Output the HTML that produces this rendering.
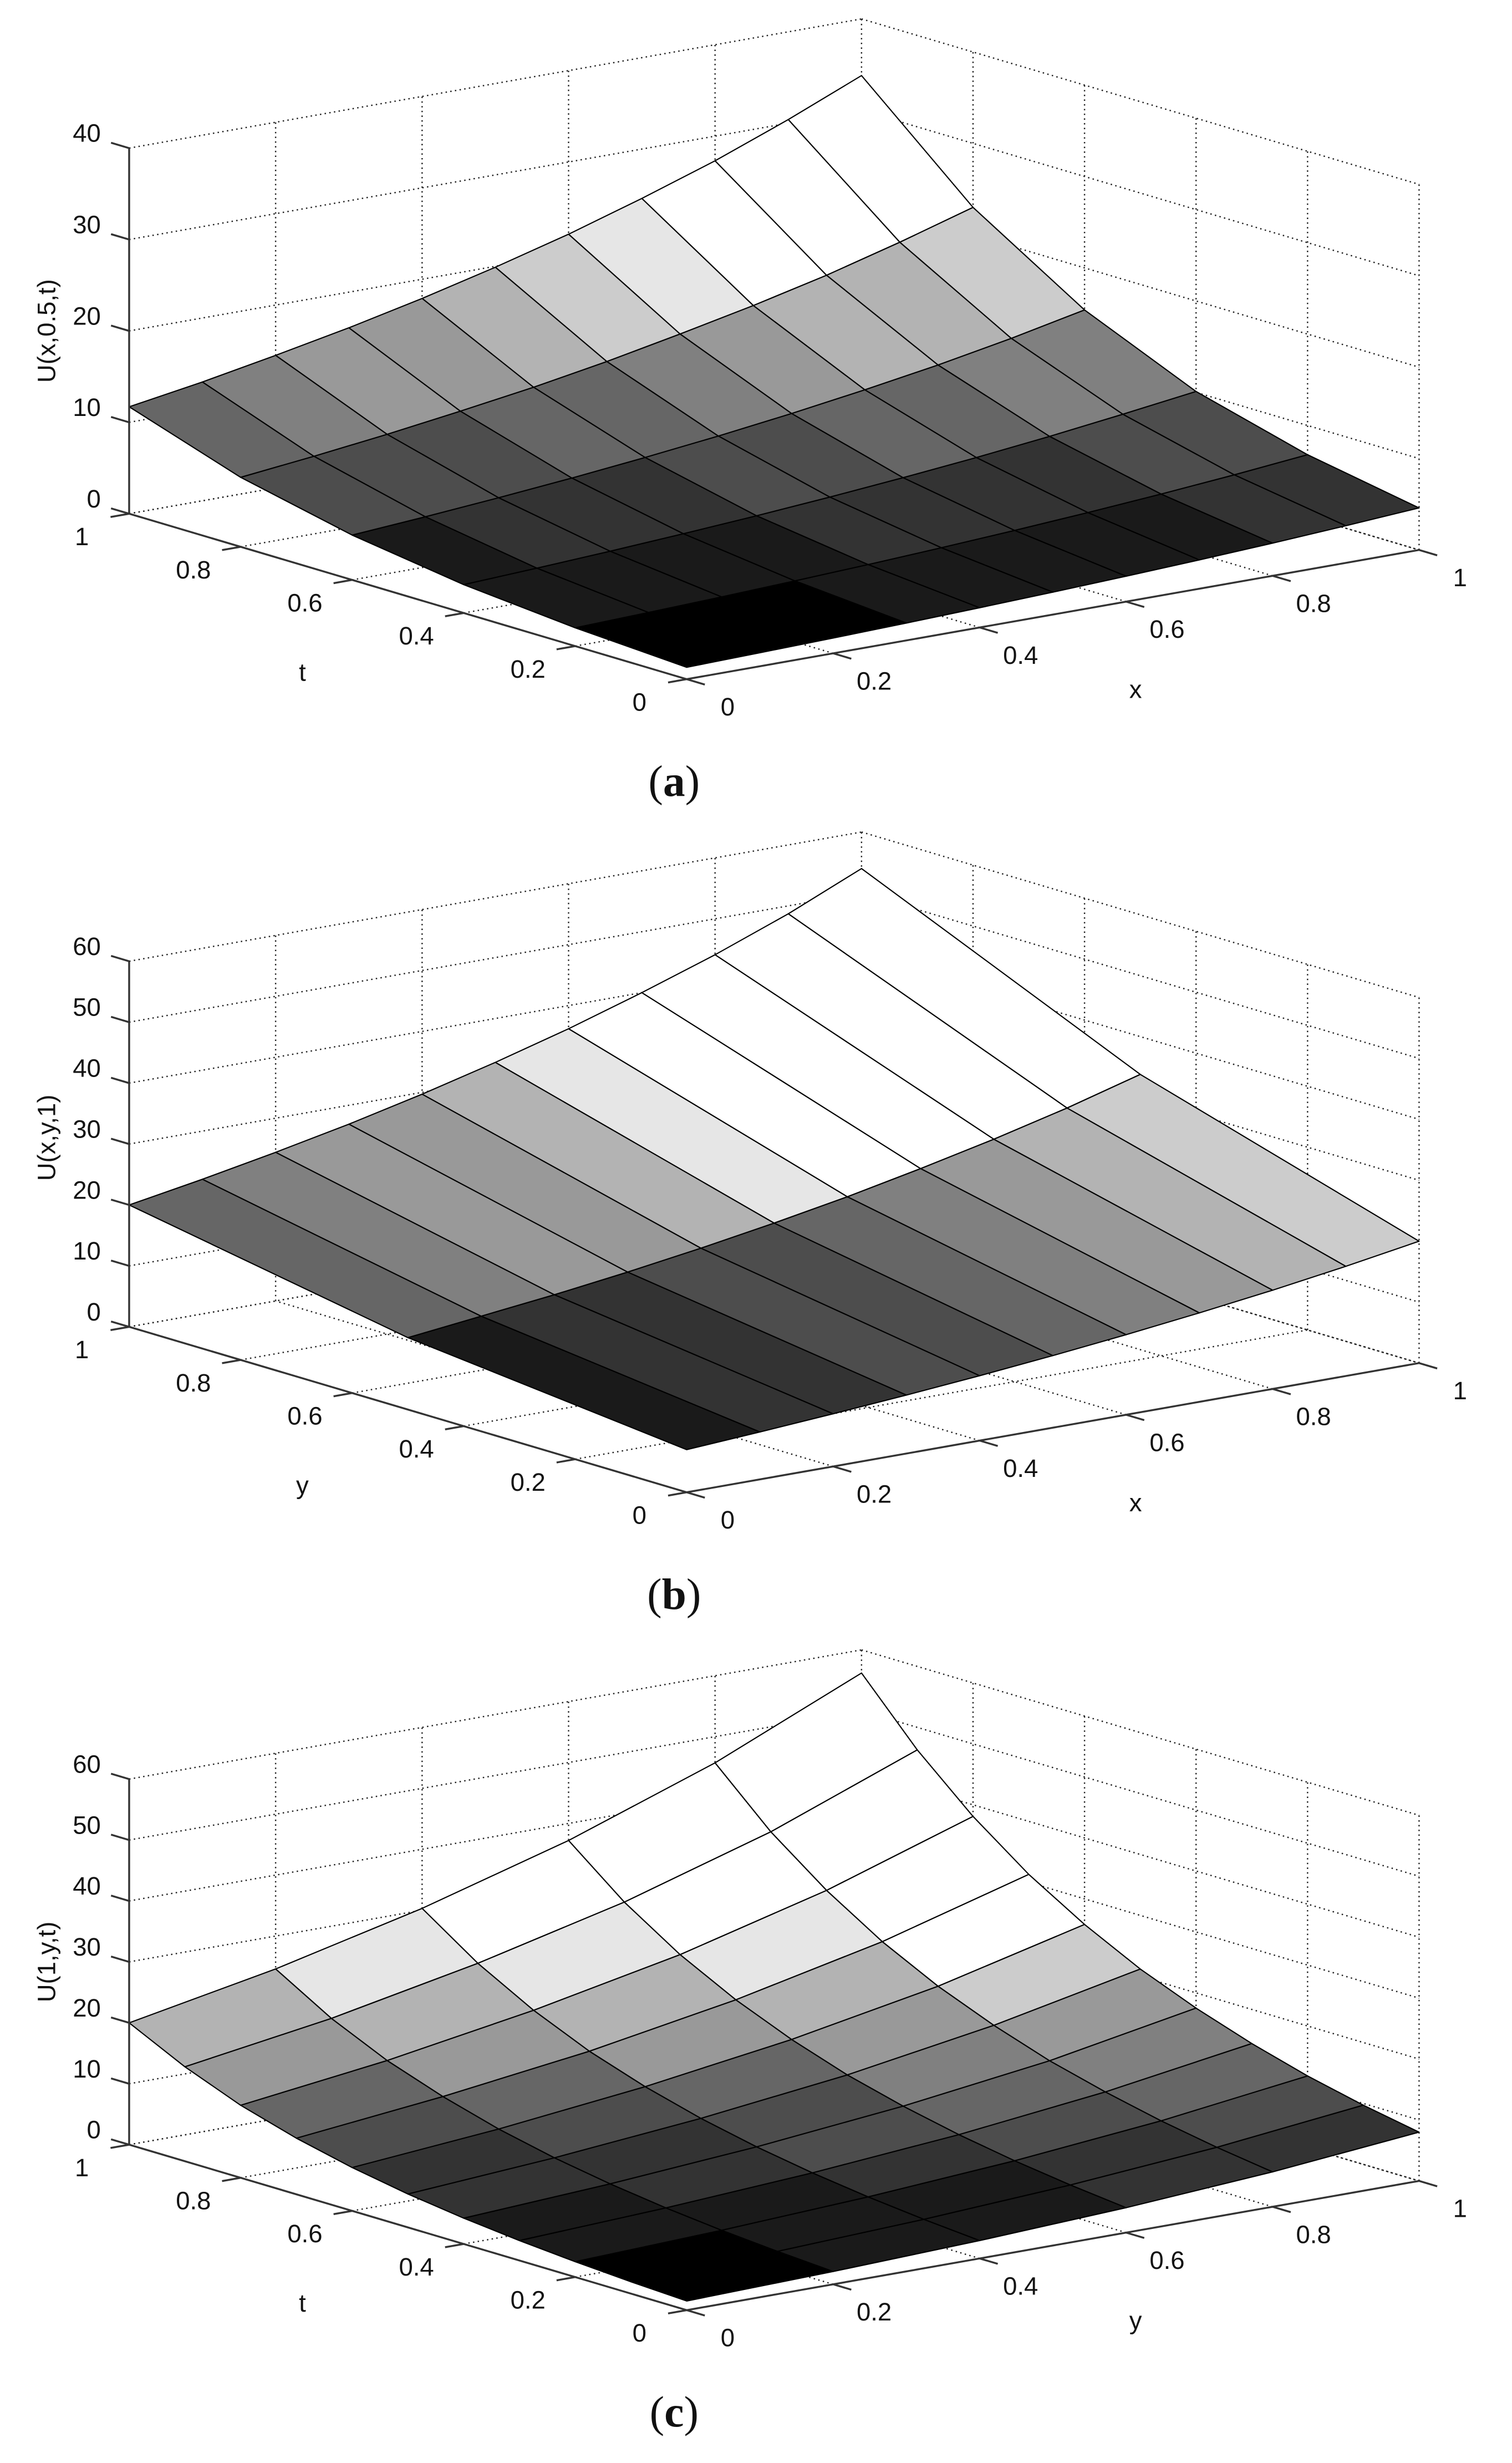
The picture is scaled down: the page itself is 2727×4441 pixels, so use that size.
<!DOCTYPE html>
<html><head><meta charset="utf-8">
<style>
html,body{margin:0;padding:0;background:#fff;}
svg{display:block;}
text{font-family:"Liberation Sans",sans-serif;fill:#111;}
.cap{font-family:"Liberation Serif",serif;}
</style></head>
<body>
<svg id="fig" xmlns="http://www.w3.org/2000/svg" width="2727" height="4441" viewBox="0 0 960 1563" preserveAspectRatio="none">
<rect width="960" height="1563" fill="#fff"/>
<g id="pa"></g>
<g id="pb"></g>
<g id="pc"></g>
</svg>
<script>
// ---------- Panel (a): U(x,0.5,t) ----------
const aU = [0,0.1,0.2,0.3,0.4,0.5,0.6,0.7,0.8,0.9,1];   // x
const aV = [0,0.2,0.4,0.6,0.8,1];                       // t
const aZ = [
 [1.3,1.48,1.67,1.90,2.16,2.45,2.78,3.15,3.57,4.06,4.6],
 [2.0,2.26,2.55,2.89,3.26,3.69,4.17,4.71,5.32,6.01,6.8],
 [3.1,3.49,3.93,4.43,4.98,5.61,6.32,7.11,8.01,9.02,10.1],
 [4.9,5.49,6.16,6.90,7.74,8.67,9.72,10.9,12.2,13.7,15.4],
 [7.6,8.49,9.48,10.6,11.8,13.2,14.8,16.5,18.4,20.6,23.0],
 [11.7,13.0,14.5,16.1,17.9,19.9,22.1,24.6,27.3,30.4,33.8]
];
const aZTicks = [0,10,20,30,40];
const aUTicks = ["0","0.2","0.4","0.6","0.8","1"];
const aVTicks = ["0","0.2","0.4","0.6","0.8","1"];

// ---------- Panel (b): U(x,y,1) ----------
const bU = [0,0.1,0.2,0.3,0.4,0.5,0.6,0.7,0.8,0.9,1];   // x
const bV = [0,0.5,1];                                   // y
const bZ = [
 [7.0,7.78,8.64,9.59,10.65,11.83,13.14,14.6,16.2,18.0,20.0],
 [11.8,13.2,14.6,16.2,18.0,20.0,22.2,24.7,27.4,30.4,33.8],
 [20.0,22.1,24.4,26.9,29.7,32.8,36.2,40.0,44.1,48.7,54.0]
];
const bZTicks = [0,10,20,30,40,50,60];
const bUTicks = ["0","0.2","0.4","0.6","0.8","1"];
const bVTicks = ["0","0.2","0.4","0.6","0.8","1"];

// ---------- Panel (c): U(1,y,t) ----------
const cU = [0,0.2,0.4,0.6,0.8,1];                       // y
const cV = [0,0.1,0.2,0.3,0.4,0.5,0.6,0.7,0.8,0.9,1];   // t
const cZ = [
 [1.5,2.10,2.93,4.09,5.72,8.0],
 [1.94,2.69,3.70,5.10,7.04,9.72],
 [2.52,3.43,4.67,6.36,8.67,11.8],
 [3.27,4.39,5.90,7.93,10.7,14.4],
 [4.23,5.62,7.45,9.89,13.1,17.5],
 [5.48,7.18,9.41,12.3,16.2,21.2],
 [7.11,9.19,11.9,15.4,19.9,25.8],
 [9.21,11.8,15.0,19.2,24.5,31.3],
 [11.9,15.0,19.0,23.9,30.2,38.1],
 [15.5,19.2,24.0,29.8,37.1,46.3],
 [20.0,24.6,30.3,37.2,45.7,56.2]
];
const cZTicks = [0,10,20,30,40,50,60];
const cUTicks = ["0","0.2","0.4","0.6","0.8","1"];
const cVTicks = ["0","0.2","0.4","0.6","0.8","1"];

const NS = "http://www.w3.org/2000/svg";
function mk(tag, attrs, parent){
  const e = document.createElementNS(NS, tag);
  for (const k in attrs) e.setAttribute(k, attrs[k]);
  parent.appendChild(e);
  return e;
}

function drawPanel(g, cfg){
  const O=[436, 431+cfg.dy], X=[465,-82], T=[-354,-105];
  const zmax = cfg.zt[cfg.zt.length-1];
  const zs = 232/zmax;
  const P = (u,v,z)=>[O[0]+u*X[0]+v*T[0], O[1]+u*X[1]+v*T[1]-z*zs];
  const pt = p=>p[0].toFixed(2)+","+p[1].toFixed(2);
  const dot = {stroke:"#222","stroke-width":0.85,"stroke-dasharray":"0.9 2.1",fill:"none"};
  const grid = mk("g",{},g);
  
  
  const ticks=[0,0.2,0.4,0.6,0.8,1];
  ticks.forEach(u=>{ if(u>0) mk("line",Object.assign({x1:P(u,1,0)[0],y1:P(u,1,0)[1],x2:P(u,1,zmax)[0],y2:P(u,1,zmax)[1]},dot),grid); });
  cfg.zt.forEach(z=>{ const a=P(0,1,z),b=P(1,1,z); mk("line",Object.assign({x1:a[0],y1:a[1],x2:b[0],y2:b[1]},dot),grid);
    const c=P(1,0,z); mk("line",Object.assign({x1:b[0],y1:b[1],x2:c[0],y2:c[1]},dot),grid); });
  ticks.forEach(v=>{ if(v<1){const a=P(1,v,0),b=P(1,v,zmax); mk("line",Object.assign({x1:a[0],y1:a[1],x2:b[0],y2:b[1]},dot),grid);} });
  ticks.forEach(u=>{ const a=P(u,0,0),b=P(u,1,0); mk("line",Object.assign({x1:a[0],y1:a[1],x2:b[0],y2:b[1]},dot),grid); });
  ticks.forEach(v=>{ const a=P(0,v,0),b=P(1,v,0); mk("line",Object.assign({x1:a[0],y1:a[1],x2:b[0],y2:b[1]},dot),grid); });

  const surf = mk("g",{},g);
  
  
  const Z=cfg.Z, U=cfg.U, V=cfg.V;
  let vmin=Infinity,vmax=-Infinity;
  Z.forEach(r=>r.forEach(v=>{vmin=Math.min(vmin,v);vmax=Math.max(vmax,v);}));
  const patches=[];
  for(let j=0;j<V.length-1;j++) for(let i=0;i<U.length-1;i++){
    patches.push({i,j,d:(U[i]+U[i+1])/2+(V[j]+V[j+1])/2});
  }
  patches.sort((a,b)=>b.d-a.d);
  patches.forEach(p=>{
    const {i,j}=p;
    const m=(Z[j][i]+Z[j][i+1]+Z[j+1][i]+Z[j+1][i+1])/4;
    let gv=Math.max(0,Math.min(1,(m-vmin)/(cfg.sat*(vmax-vmin))));
    gv=Math.round(gv*10)/10;
    const c=Math.round(gv*255);
    const pts=[P(U[i],V[j],Z[j][i]),P(U[i+1],V[j],Z[j][i+1]),P(U[i+1],V[j+1],Z[j+1][i+1]),P(U[i],V[j+1],Z[j+1][i])];
    const poly=mk("polygon",{points:pts.map(pt).join(" "),fill:`rgb(${c},${c},${c})`,stroke:"#000","stroke-width":0.75,"stroke-linejoin":"round"},surf);
    
    
  });

  const ax = mk("g",{stroke:"#333","stroke-width":1.2,fill:"none"},g);
  
  
  const z0=P(0,1,0), zt=P(0,1,zmax);
  mk("line",{x1:z0[0],y1:z0[1],x2:zt[0],y2:zt[1]},ax);
  const o=P(0,0,0), x1=P(1,0,0);
  mk("line",{x1:z0[0],y1:z0[1],x2:o[0],y2:o[1]},ax);
  mk("line",{x1:o[0],y1:o[1],x2:x1[0],y2:x1[1]},ax);
  const tn=Math.hypot(T[0],T[1]), xn=Math.hypot(X[0],X[1]);
  const tu=[T[0]/tn,T[1]/tn], xu=[X[0]/xn,X[1]/xn];
  const lab = mk("g",{"font-size":16},g);
  
  
  cfg.zt.forEach(z=>{
    const a=P(0,1,z);
    mk("line",{x1:a[0],y1:a[1],x2:a[0]+tu[0]*12,y2:a[1]+tu[1]*12},ax);
    const t=mk("text",{x:64,y:a[1]-4,"text-anchor":"end"},lab); t.textContent=String(z);
    
    
  });
  cfg.vt.forEach((s,k)=>{
    const v=k/5, a=P(0,v,0);
    mk("line",{x1:a[0],y1:a[1],x2:a[0]-xu[0]*12,y2:a[1]-xu[1]*12},ax);
    const t=mk("text",{x:a[0]-30,y:a[1]+20,"text-anchor":"middle"},lab); t.textContent=s;
    
    
  });
  cfg.ut.forEach((s,k)=>{
    const u=k/5, a=P(u,0,0);
    mk("line",{x1:a[0],y1:a[1],x2:a[0]-tu[0]*12,y2:a[1]-tu[1]*12},ax);
    const t=mk("text",{x:a[0]+26,y:a[1]+23,"text-anchor":"middle"},lab); t.textContent=s;
    
    
  });
  const vl=mk("text",{x:192,y:432+cfg.dy,"font-size":16,"text-anchor":"middle"},g); vl.textContent=cfg.vlab;
  
  
  const ul=mk("text",{x:721,y:443+cfg.dy,"font-size":16,"text-anchor":"middle"},g); ul.textContent=cfg.ulab;
  
  
  const zc=cfg.zlabY;
  const zl=mk("text",{x:35,y:zc,"font-size":16,"text-anchor":"middle",transform:`rotate(-90 35 ${zc})`},g); zl.textContent=cfg.zlab;
  
  
  const cap=mk("text",{x:428,y:505+cfg.dy,"font-size":28,"text-anchor":"middle","class":"cap"},g);
  cap.innerHTML='(<tspan font-weight="bold">'+cfg.cap+'</tspan>)';
  
  
}

drawPanel(document.getElementById('pa'),{dy:0,U:aU,V:aV,Z:aZ,zt:aZTicks,ut:aUTicks,vt:aVTicks,sat:0.62,ulab:"x",vlab:"t",zlab:"U(x,0.5,t)",zlabY:210,cap:"a"});
drawPanel(document.getElementById('pb'),{dy:516,U:bU,V:bV,Z:bZ,zt:bZTicks,ut:bUTicks,vt:bVTicks,sat:0.52,ulab:"x",vlab:"y",zlab:"U(x,y,1)",zlabY:722,cap:"b"});
drawPanel(document.getElementById('pc'),{dy:1035,U:cU,V:cV,Z:cZ,zt:cZTicks,ut:cUTicks,vt:cVTicks,sat:0.45,ulab:"y",vlab:"t",zlab:"U(1,y,t)",zlabY:1245,cap:"c"});
</script>
</body></html>
